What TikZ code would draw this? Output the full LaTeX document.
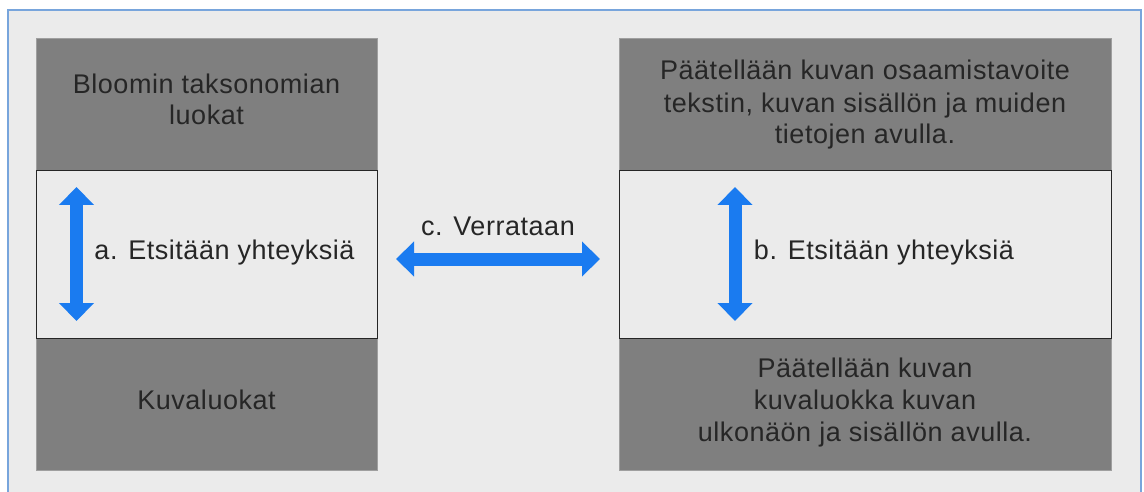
\documentclass[tikz,border=0pt]{standalone}
\usepackage{fontspec}
\setmainfont{Liberation Sans}[LetterSpace=2]
\usetikzlibrary{arrows.meta}
\definecolor{panelbg}{HTML}{EBEBEB}
\definecolor{boxgray}{HTML}{7F7F7F}
\definecolor{frameblue}{HTML}{78A5DC}
\definecolor{arrowblue}{HTML}{1A7BF0}
\definecolor{ink}{HTML}{262626}

\begin{document}
\begin{tikzpicture}[x=1pt,y=-1pt,
  txt/.style={font=\fontsize{27}{32}\selectfont, text=ink, inner sep=0pt, align=center},
  graybox/.style={fill=boxgray, draw=boxgray!75!white, line width=0.8pt,
    inner sep=0pt, anchor=north west},
  linkbox/.style={fill=panelbg, draw=black!85, line width=1pt,
    inner sep=0pt, anchor=north west},
  bidir/.style={arrowblue, line width=13pt,
    {Triangle[length=18pt,width=34pt]}-{Triangle[length=18pt,width=34pt]}}]
\useasboundingbox (0,0) rectangle (1144,492);
\clip (0,0) rectangle (1144,492);
\fill[white] (0,0) rectangle (1144,492);
% outer panel
\draw[frameblue, fill=panelbg, line width=1.5pt] (8,10) rectangle (1141,520);

% left column
\node[graybox, minimum width=341pt, minimum height=132pt] (bloom) at (36,38) {};
\node[graybox, minimum width=341pt, minimum height=132pt] (kuva) at (36,338) {};
\node[linkbox, minimum width=341pt, minimum height=168pt] (linka) at (36,170) {};

% right column
\node[graybox, minimum width=492pt, minimum height=132pt] (tavoite) at (619,38) {};
\node[graybox, minimum width=492pt, minimum height=132pt] (luokka) at (619,338) {};
\node[linkbox, minimum width=492pt, minimum height=168pt] (linkb) at (619,170) {};

% texts (base anchor = baseline of the last line)
\node[txt, anchor=base] (tbloom) at (206.5,125) {Bloomin taksonomian\\luokat};
\node[txt, anchor=base] (tkuva) at (206.5,409) {Kuvaluokat};
\node[txt, anchor=base] (ta) at (224.5,259) {a. Etsitään yhteyksiä};
\node[txt, anchor=base] (tc) at (498,236) {c. Verrataan};
\node[txt, anchor=base] (tb) at (884,259) {b. Etsitään yhteyksiä};
\node[txt, anchor=base] (ttavoite) at (865,144)
  {Päätellään kuvan osaamistavoite\\tekstin, kuvan sisällön ja muiden\\tietojen avulla.};
\node[txt, anchor=base] (tluokka) at (865,441)
  {Päätellään kuvan\\kuvaluokka kuvan\\ulkonäön ja sisällön avulla.};

% arrows
\coordinate (aTop) at (76.5,187);
\coordinate (aBot) at (76.5,321);
\coordinate (bTop) at (735,187);
\coordinate (bBot) at (735,321);
\coordinate (cL) at (396,259);
\coordinate (cR) at (600,259);
\draw[bidir] (aTop) -- (aBot);
\draw[bidir] (bTop) -- (bBot);
\draw[bidir] (cL) -- (cR);
\end{tikzpicture}
\end{document}
